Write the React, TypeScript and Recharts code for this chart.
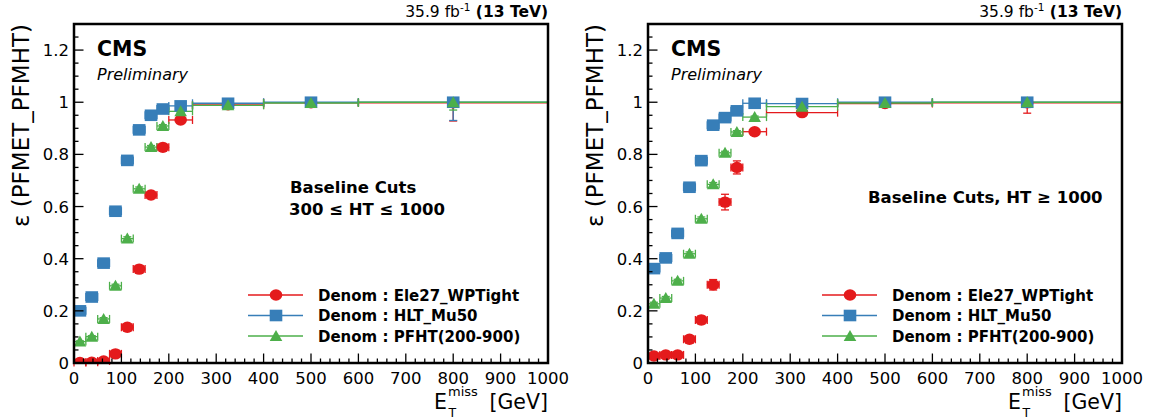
import React from 'react';
import { ScatterChart, Scatter, XAxis, YAxis, ErrorBar, Legend } from 'recharts';

const RED = '#e41a1c';
const BLUE = '#377eb8';
const GREEN = '#4daf4a';
const FONT = '"DejaVu Sans", sans-serif';

// MET bins [GeV]: centre and half width
const binCenter = [12.5, 37.5, 62.5, 87.5, 112.5, 137.5, 162.5, 187.5, 225, 325, 500, 800];
const binHalfWidth = [12.5, 12.5, 12.5, 12.5, 12.5, 12.5, 12.5, 12.5, 25, 75, 100, 200];

// 300 <= HT <= 1000
const effEleMid = [0.002, 0.003, 0.008, 0.035, 0.137, 0.36, 0.644, 0.827, 0.932, 0.99, 0.998, 0.998];
const effMuMid = [0.2, 0.253, 0.383, 0.582, 0.777, 0.894, 0.95, 0.974, 0.986, 0.996, 1.0, 1.0];
const effHtMid = [0.082, 0.101, 0.169, 0.296, 0.477, 0.668, 0.828, 0.909, 0.965, 0.988, 0.997, 1.0];
const errEleMid = [0.002, 0.002, 0.003, 0.006, 0.01, 0.012, 0.012, 0.01, 0.008, 0.005, 0.01, 0.07];
const errMuMid = [0.006, 0.006, 0.007, 0.007, 0.006, 0.005, 0.004, 0.003, 0.003, 0.002, 0.005, 0.07];
const errHtMid = [0.003, 0.004, 0.005, 0.006, 0.007, 0.007, 0.006, 0.005, 0.004, 0.003, 0.005, 0.03];

// HT >= 1000
const effEleHigh = [0.027, 0.031, 0.031, 0.091, 0.165, 0.3, 0.617, 0.75, 0.887, 0.96, 0.995, 0.998];
const effMuHigh = [0.362, 0.403, 0.497, 0.674, 0.776, 0.912, 0.941, 0.967, 0.996, 0.995, 1.0, 1.0];
const effHtHigh = [0.227, 0.249, 0.315, 0.419, 0.553, 0.685, 0.806, 0.886, 0.943, 0.983, 0.997, 1.0];
const errEleHigh = [0.008, 0.008, 0.008, 0.012, 0.015, 0.02, 0.03, 0.025, 0.012, 0.008, 0.006, 0.04];
const errMuHigh = [0.01, 0.01, 0.01, 0.01, 0.01, 0.008, 0.007, 0.006, 0.003, 0.003, 0.003, 0.02];
const errHtHigh = [0.006, 0.006, 0.006, 0.007, 0.007, 0.007, 0.006, 0.005, 0.004, 0.003, 0.003, 0.01];

const seriesNames = ['Denom : Ele27_WPTight', 'Denom : HLT_Mu50', 'Denom : PFHT(200-900)'];
const seriesColors = [RED, BLUE, GREEN];

const xMajorTicks = [0, 100, 200, 300, 400, 500, 600, 700, 800, 900, 1000];
const yMajorTicks = [0, 0.2, 0.4, 0.6, 0.8, 1, 1.2];
const xTicks = Array.from({ length: 51 }, (_, i) => i * 20);
const yTicks = Array.from({ length: 27 }, (_, i) => (i * 5) / 100);

// plot box inside each 579x420 panel
const MARGIN = { top: 24, right: 31, bottom: 17, left: 10 };
const Y_AXIS_W = 64;
const X_AXIS_H = 40;
const PANEL_W = 579;
const PANEL_H = 420;
const BOX = {
  left: MARGIN.left + Y_AXIS_W,
  top: MARGIN.top,
  right: PANEL_W - MARGIN.right,
  bottom: PANEL_H - MARGIN.bottom - X_AXIS_H,
};

function toPoints(eff: number[], err: number[]) {
  return binCenter.map((x, i) => ({
    x,
    y: eff[i],
    ex: binHalfWidth[i],
    ey: [err[i], Math.min(err[i], 1 - eff[i])],
  }));
}

function CircleMark(p: any) {
  return <ellipse cx={p.cx} cy={p.cy} rx={6.3} ry={5.7} fill={RED} />;
}
function SquareMark(p: any) {
  return <rect x={p.cx - 6.3} y={p.cy - 5.8} width={12.6} height={11.6} fill={BLUE} />;
}
function TriangleMark(p: any) {
  const { cx, cy } = p;
  return <polygon points={`${cx - 6.3},${cy + 5} ${cx + 6.3},${cy + 5} ${cx},${cy - 6}`} fill={GREEN} />;
}
function NoMark() {
  return <g />;
}
const markers = [CircleMark, SquareMark, TriangleMark];

function XTick(props: any) {
  const { x, y, payload } = props;
  const v = payload.value;
  const major = xMajorTicks.includes(v);
  return (
    <g>
      <line x1={x} x2={x} y1={y} y2={y - (major ? 9.5 : 4.5)} stroke="#000" strokeWidth={1.3} />
      {major && (
        <text x={x} y={y + 21} textAnchor="middle" fontFamily={FONT} fontSize={16.5} fill="#000">
          {v}
        </text>
      )}
    </g>
  );
}

function YTick(props: any) {
  const { x, y, payload } = props;
  const v = payload.value;
  const major = yMajorTicks.some((t) => Math.abs(t - v) < 1e-6);
  return (
    <g>
      <line x1={x} x2={x + (major ? 9.5 : 4.5)} y1={y} y2={y} stroke="#000" strokeWidth={1.3} />
      {major && (
        <text x={x - 5} y={y + 6} textAnchor="end" fontFamily={FONT} fontSize={16.5} fill="#000">
          {Number(v.toFixed(1))}
        </text>
      )}
    </g>
  );
}

function LegendBox(props: any) {
  const items = (props.payload || []).filter((it: any) => seriesNames.includes(it.value));
  return (
    <svg width={330} height={64} style={{ display: 'block' }}>
      {items.map((it: any, i: number) => {
        const cy = 11 + i * 20.5;
        const idx = seriesNames.indexOf(it.value);
        const Mark = markers[idx];
        return (
          <g key={it.value}>
            <line x1={2} x2={57} y1={cy} y2={cy} stroke={seriesColors[idx]} strokeWidth={1.3} />
            <Mark cx={30} cy={cy} />
            <text x={72} y={cy + 5.5} fontFamily={FONT} fontWeight="bold" fontSize={15} fill="#000">
              {it.value}
            </text>
          </g>
        );
      })}
    </svg>
  );
}

function Panel({ effs, errs, cutLines }: { effs: number[][]; errs: number[][]; cutLines: { x: number; y: number; text: string }[] }) {
  const axisLine = { stroke: '#000', strokeWidth: 2 };
  return (
    <div style={{ position: 'relative', width: PANEL_W, height: PANEL_H }}>
      <ScatterChart width={PANEL_W} height={PANEL_H} margin={MARGIN}>
        <XAxis
          type="number"
          dataKey="x"
          domain={[0, 1000]}
          ticks={xTicks}
          interval={0}
          height={X_AXIS_H}
          tickSize={0}
          tickMargin={0}
          tickLine={false}
          axisLine={axisLine}
          tick={XTick}
        />
        <YAxis
          type="number"
          dataKey="y"
          domain={[0, 1.3]}
          ticks={yTicks}
          interval={0}
          width={Y_AXIS_W}
          tickSize={0}
          tickMargin={0}
          tickLine={false}
          axisLine={axisLine}
          tick={YTick}
          allowDataOverflow
        />
        {effs.flatMap((eff, i) => {
          const pts = toPoints(eff, errs[i]);
          return [
            // error bars first so the markers sit on top of them
            <Scatter
              key={`${seriesNames[i]}-err`}
              name={`${seriesNames[i]} err`}
              data={pts}
              fill={seriesColors[i]}
              shape={NoMark}
              legendType="none"
              isAnimationActive={false}
            >
              <ErrorBar dataKey="ex" direction="x" width={4} stroke={seriesColors[i]} strokeWidth={1.3} />
              <ErrorBar dataKey="ey" direction="y" width={4} stroke={seriesColors[i]} strokeWidth={1.3} />
            </Scatter>,
            <Scatter
              key={seriesNames[i]}
              name={seriesNames[i]}
              data={pts}
              fill={seriesColors[i]}
              shape={markers[i]}
              isAnimationActive={false}
            />,
          ];
        })}
        <Legend
          layout="vertical"
          align="center"
          verticalAlign="middle"
          content={LegendBox}
          wrapperStyle={{ left: 246, top: 284, width: 330, height: 64 }}
        />
      </ScatterChart>
      <svg width={PANEL_W} height={PANEL_H} style={{ position: 'absolute', left: 0, top: 0, pointerEvents: 'none' }} fontFamily={FONT}>
        {/* frame around the plot area */}
        <rect
          x={BOX.left}
          y={BOX.top}
          width={BOX.right - BOX.left}
          height={BOX.bottom - BOX.top}
          fill="none"
          stroke="black"
          strokeWidth={2.5}
        />
        <text x={BOX.right} y={17} textAnchor="end" fontSize={15.5}>
          35.9 fb
          <tspan fontSize={10.5} dy={-6}>-1</tspan>
          <tspan dy={6} fontWeight="bold"> (13 TeV)</tspan>
        </text>
        <text x={97} y={55.5} fontSize={20.5} fontWeight="bold">CMS</text>
        <text x={97} y={80} fontSize={16} fontStyle="italic">Preliminary</text>
        {cutLines.map((c) => (
          <text key={c.text} x={c.x} y={c.y} fontSize={16.5} fontWeight="bold">{c.text}</text>
        ))}
        <text transform="translate(29,24) rotate(-90)" textAnchor="end" fontSize={23}>
          ε (PFMET_PFMHT)
        </text>
        <text x={434} y={409} fontSize={20.5}>E</text>
        <text x={448} y={396} fontSize={13}>miss</text>
        <text x={448.5} y={417} fontSize={12.5}>T</text>
        <text x={BOX.right} y={409} textAnchor="end" fontSize={20.5}>[GeV]</text>
      </svg>
    </div>
  );
}

export default function App() {
  return (
    <div style={{ position: 'absolute', left: 0, top: 0, width: 1158, height: 420, background: '#fff', overflow: 'hidden' }}>
      <div style={{ position: 'absolute', left: 0, top: 0 }}>
        <Panel
          effs={[effEleMid, effMuMid, effHtMid]}
          errs={[errEleMid, errMuMid, errHtMid]}
          cutLines={[
            { x: 290, y: 193, text: 'Baseline Cuts' },
            { x: 289, y: 215, text: '300 ≤ HT ≤ 1000' },
          ]}
        />
      </div>
      <div style={{ position: 'absolute', left: 574, top: 0 }}>
        <Panel
          effs={[effEleHigh, effMuHigh, effHtHigh]}
          errs={[errEleHigh, errMuHigh, errHtHigh]}
          cutLines={[{ x: 294, y: 203, text: 'Baseline Cuts, HT ≥ 1000' }]}
        />
      </div>
    </div>
  );
}
